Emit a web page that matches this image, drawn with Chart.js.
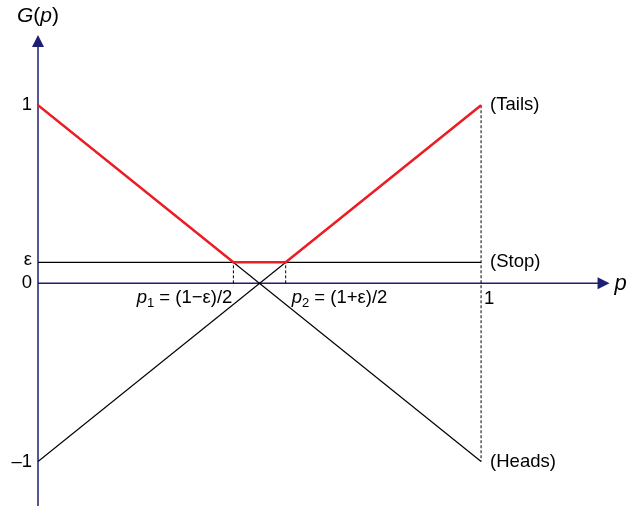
<!DOCTYPE html>
<html><head><meta charset="utf-8">
<script src="https://cdn.jsdelivr.net/npm/chart.js@4"></script>
<style>html,body{margin:0;padding:0;background:#fff}#wrap{width:631px;height:506px}</style>
</head><body><div id="wrap"><canvas id="c" width="631" height="506"></canvas></div>
<script>
const eps = 0.118;
const p1 = 0.441, p2 = 0.559;
const pEnds = [0, 1];
const tails = [-1, 1];
const heads = [1, -1];
const stop = [eps, eps];
const redX = [0, p1, p2, 1];
const redY = [1, eps, eps, 1];
const yTickLabels = ['1', 'ε', '0', '\u20131'];
const yTickValues = [1, eps, 0, -1];
const curveLabels = ['(Tails)', '(Stop)', '(Heads)'];
const curveValues = [1, eps, -1];

const NAVY = '#1e1e72', RED = '#ee1c24', FONT = '"Liberation Sans", Arial, sans-serif';
const pts = (xs, ys) => xs.map((x, i) => ({x, y: ys[i]}));
const lineDs = (data, color, w, dash) => ({data, borderColor: color, borderWidth: w, borderDash: dash || [], showLine: true, pointRadius: 0, fill: false, tension: 0});

function drawRich(ctx, x, y, segs, align) {
  let total = 0;
  segs.forEach(s => { ctx.font = s.f; total += ctx.measureText(s.t).width; });
  let cx = align === 'right' ? x - total : (align === 'center' ? x - total / 2 : x);
  ctx.textAlign = 'left'; ctx.textBaseline = 'middle';
  segs.forEach(s => { ctx.font = s.f; ctx.fillText(s.t, cx, y + (s.dy || 0)); cx += ctx.measureText(s.t).width; });
}

const axesPlugin = {
  id: 'axes',
  beforeDatasetsDraw(chart) {
    const {ctx, scales: {x, y}} = chart;
    const x0 = x.getPixelForValue(0), y0 = y.getPixelForValue(0);
    const yTop = y.getPixelForValue(1.395), yBot = y.getPixelForValue(-1.25);
    const xTip = x.getPixelForValue(1.29);
    ctx.save();
    ctx.strokeStyle = NAVY; ctx.fillStyle = NAVY; ctx.lineWidth = 1.5;
    ctx.beginPath(); ctx.moveTo(x0, yBot); ctx.lineTo(x0, yTop + 10); ctx.stroke();
    ctx.beginPath(); ctx.moveTo(x0, yTop); ctx.lineTo(x0 - 6, yTop + 12); ctx.lineTo(x0 + 6, yTop + 12); ctx.closePath(); ctx.fill();
    ctx.beginPath(); ctx.moveTo(x0, y0); ctx.lineTo(xTip - 10, y0); ctx.stroke();
    ctx.beginPath(); ctx.moveTo(xTip, y0); ctx.lineTo(xTip - 12, y0 - 6); ctx.lineTo(xTip - 12, y0 + 6); ctx.closePath(); ctx.fill();
    ctx.restore();
  },
  afterDatasetsDraw(chart) {
    const {ctx, scales: {x, y}} = chart;
    const x0 = x.getPixelForValue(0), y0 = y.getPixelForValue(0);
    ctx.save();
    ctx.fillStyle = '#000';
    const f16 = '18.5px ' + FONT, i16 = 'italic 18.5px ' + FONT, s11 = '13px ' + FONT;
    yTickLabels.forEach((t, i) => {
      ctx.font = f16; ctx.textAlign = 'right'; ctx.textBaseline = 'middle';
      ctx.fillText(t, x0 - 6, y.getPixelForValue(yTickValues[i]) - (t === 'ε' ? 2 : 0));
    });
    curveLabels.forEach((t, i) => {
      ctx.font = f16; ctx.textAlign = 'left'; ctx.textBaseline = 'middle';
      ctx.fillText(t, x.getPixelForValue(1) + 9, y.getPixelForValue(curveValues[i]));
    });
    ctx.font = f16; ctx.textAlign = 'left'; ctx.textBaseline = 'middle';
    ctx.fillText('1', x.getPixelForValue(1) + 3, y0 + 16);
    drawRich(ctx, x.getPixelForValue(p1) - 1, y0 + 15, [
      {t: 'p', f: i16}, {t: '1', f: s11, dy: 5}, {t: ' = (1\u2212ε)/2', f: f16}], 'right');
    drawRich(ctx, x.getPixelForValue(p2) + 6, y0 + 15, [
      {t: 'p', f: i16}, {t: '2', f: s11, dy: 5}, {t: ' = (1+ε)/2', f: f16}], 'left');
    drawRich(ctx, 17, 16, [
      {t: 'G', f: 'italic 21px ' + FONT}, {t: '(', f: '21px ' + FONT}, {t: 'p', f: 'italic 21px ' + FONT}, {t: ')', f: '21px ' + FONT}], 'left');
    drawRich(ctx, x.getPixelForValue(1.29) + 5, y0 + 1, [{t: 'p', f: 'italic 22px ' + FONT}], 'left');
    ctx.restore();
  }
};

new Chart(document.getElementById('c'), {
  type: 'scatter',
  data: {
    datasets: [
      lineDs(pts(redX, redY), RED, 2.5),
      lineDs(pts(pEnds, tails), '#000', 1.2),
      lineDs(pts(pEnds, heads), '#000', 1.2),
      lineDs(pts(pEnds, stop), '#000', 1.2),
      lineDs(pts([p1, p1], [0, eps]), '#000', 1, [3, 2]),
      lineDs(pts([p2, p2], [0, eps]), '#000', 1, [3, 2]),
      lineDs(pts([1, 1], [1, -1]), '#000', 1, [3, 2])
    ]
  },
  options: {
    responsive: false, animation: false,
    layout: {padding: {left: 38, right: 17, top: 34, bottom: 0}},
    plugins: {legend: {display: false}, tooltip: {enabled: false}},
    scales: {
      x: {type: 'linear', min: 0, max: 1.3, display: false},
      y: {type: 'linear', min: -1.25, max: 1.4, display: false}
    }
  },
  plugins: [axesPlugin]
});
</script></body></html>
